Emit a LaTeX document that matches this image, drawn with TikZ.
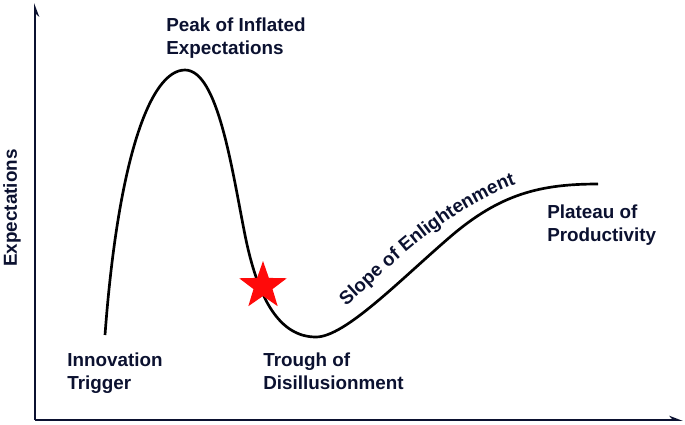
\documentclass[tikz,border=0pt]{standalone}
\usepackage{fontspec}
\setmainfont{Liberation Sans}
\usepackage{tikz}
\usetikzlibrary{arrows.meta}
\usetikzlibrary{shapes.geometric}
\usetikzlibrary{decorations.text}
\definecolor{hypenavy}{HTML}{0B1130}
\definecolor{hypered}{HTML}{FF0A0A}

\begin{document}
\begin{tikzpicture}[
            x = 0.025cm, % one pixel of the reference
            y = -0.025cm, % rows run downwards
            line join = round
        ]

        \tikzstyle{axis}=[
            draw = hypenavy,
            line width = 2pt,
            -{Stealth[harpoon, length=8pt, width=6pt]}
        ]
        \tikzstyle{hype}=[
            draw = black,
            line width = 1.9pt
        ]
        \tikzstyle{phase}=[
            font = \bfseries\fontsize{13.4}{16.3}\selectfont,
            text = hypenavy,
            align = left,
            anchor = north west,
            inner sep = 0pt
        ]
        \tikzstyle{marker}=[
            star,
            star points = 5,
            star point ratio = 2.5,
            fill = hypered,
            minimum size = 1.25cm,
            inner sep = 0pt
        ]

        \useasboundingbox (0,0) rectangle (685,424);

        % axes
        \coordinate (O) at (35,420);
        \coordinate (Ytop) at (35,3);
        \coordinate (Xend) at (683,420);
        \draw[axis, -{Stealth[harpoon, swap, length=8pt, width=6pt]}] (O) -- (Ytop);
        \draw[axis] (O) -- (Xend);
        \node[phase, anchor=center, rotate=90] (ylab) at (12,208) {Expectations};

        % the hype curve
        \coordinate (start) at (105,335);
        \coordinate (peak) at (185,70);
        \coordinate (fall) at (245,235);
        \coordinate (trough) at (316,337);
        \coordinate (slope) at (450,237);
        \coordinate (plateau) at (598,184);

        \draw[hype] (start) .. controls (118,160) and (150,70) .. (peak)
            .. controls (218,70) and (232,170) .. (fall)
            .. controls (258,300) and (280,337) .. (trough)
            .. controls (345,337) and (400,280) .. (slope)
            .. controls (500,194) and (540,184) .. (plateau);

        \node[marker] (now) at (263,286) {};

        % phases
        \node[phase] (P1) at (67,353) {Innovation\\Trigger};
        \node[phase] (P2) at (166,18) {Peak of Inflated\\Expectations};
        \node[phase] (P3) at (263,353) {Trough of\\Disillusionment};
        \node[phase] (P5) at (547,205) {Plateau of\\Productivity};

        \path[decorate, decoration={text along path, text align=left,
            text color=hypenavy,
            text={|\bfseries\fontsize{13.4}{16.3}\selectfont|Slope of Enlightenment}}]
            (346,306) .. controls (390,268) and (460,190) .. (560,172);

  \end{tikzpicture}
\end{document}
